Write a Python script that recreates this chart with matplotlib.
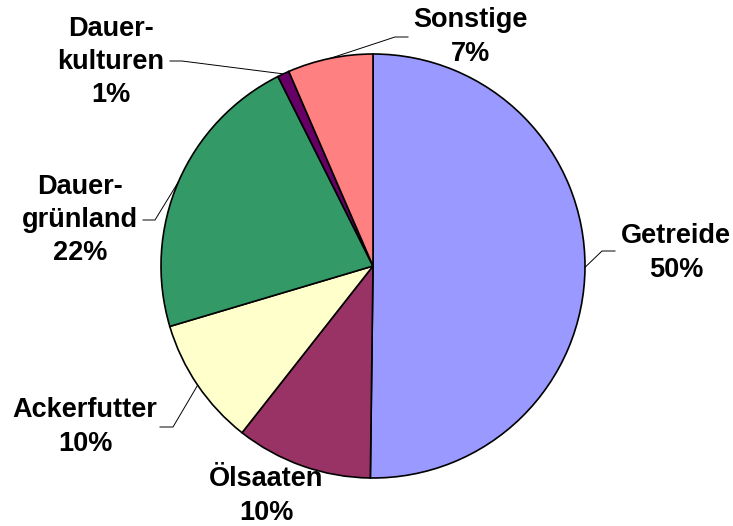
import numpy as np
import matplotlib

matplotlib.use("Agg")
import matplotlib.pyplot as plt

# shares in percent, clockwise from 12 o'clock
categories = ["Getreide", "Ölsaaten", "Ackerfutter", "Dauer-\ngrünland", "Dauer-\nkulturen", "Sonstige"]
shares = [50.2, 10.4, 9.8, 22.2, 0.9, 6.5]
share_labels = ["50%", "10%", "10%", "22%", "1%", "7%"]
colors = ["#9999FF", "#993366", "#FFFFCC", "#339966", "#660066", "#FF8080"]

W, H = 733, 526
CX, CY, R = 373, H - 266, 212

# label centres (pixel coords, y from top) and leader start/elbow
label_pos = [(676, 253), (266, 496), (85, 427), (80, 220), (111, 62), (470, 37)]
leaders = {0: [(615, 251), (602, 251)],
           2: [(160, 427), (173, 427)],
           3: [(143, 220), (155, 220)],
           4: [(170, 61), (182, 61)],
           5: [(408, 37), (395, 37)]}

plt.rcParams["font.family"] = ["Liberation Sans", "DejaVu Sans"]

fig = plt.figure(figsize=(W / 100, H / 100), dpi=100)
ax = fig.add_axes([0, 0, 1, 1])

wedges, _ = ax.pie(shares, colors=colors, startangle=90, counterclock=False,
                   center=(CX, CY), radius=R, frame=True,
                   wedgeprops=dict(edgecolor="black", linewidth=1.2))
ax.set_xlim(0, W)
ax.set_ylim(0, H)
ax.set_aspect("equal")
ax.axis("off")

for i, (name, pct) in enumerate(zip(categories, share_labels)):
    x, y = label_pos[i]
    ax.text(x, H - y, f"{name}\n{pct}", ha="center", va="center", fontsize=19.5,
            fontweight="bold", linespacing=1.36, multialignment="center")
    if i in leaders:
        w = wedges[i]
        mid = np.deg2rad((w.theta1 + w.theta2) / 2)
        ex, ey = CX + R * np.cos(mid), CY + R * np.sin(mid)
        (x0, y0), (x1, y1) = leaders[i]
        ax.plot([x0, x1, ex], [H - y0, H - y1, ey], color="black", linewidth=0.7)

fig.savefig("out.png", dpi=100)
